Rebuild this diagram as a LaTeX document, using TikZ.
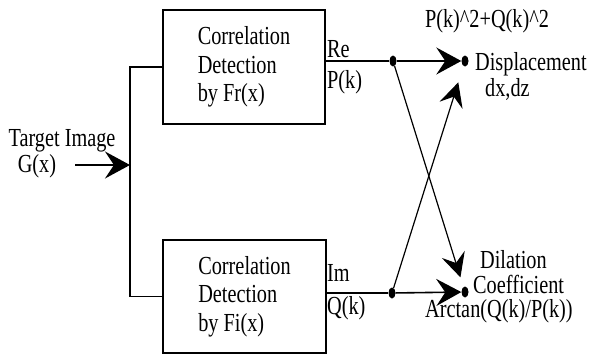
\documentclass[tikz,border=0pt]{standalone}
\usepackage{fontspec}
\setmainfont[FakeStretch=0.78]{Liberation Serif}
\usetikzlibrary{arrows.meta,shapes.geometric}
\begin{document}
\begin{tikzpicture}[x=1pt,y=-1pt,
  every node/.style={font=\fontsize{26}{28.5}\selectfont, inner sep=0pt},
  boxst/.style={draw, line width=1.6pt, minimum width=162pt, minimum height=114pt, align=left},
  dotst/.style={ellipse, fill=black, minimum width=7pt, minimum height=11pt},
  wire/.style={line width=1.6pt},
  bigarrow/.style={line width=1.6pt, -{Stealth[length=25pt, width=27pt, inset=9pt]}},
  diagarrow/.style={line width=1.2pt, -{Stealth[length=24pt, width=24pt, inset=9pt]}},
  lbl/.style={anchor=base west},
  clbl/.style={anchor=base}]
\useasboundingbox (0,0) rectangle (596,356);
% boxes
\node[boxst] (topbox) at (244,67) {Correlation\\ Detection\\ by Fr(x)};
\node[boxst, minimum width=163pt, minimum height=113pt] (botbox) at (244.5,296.5) {Correlation\\ Detection\\ by Fi(x)};
% input
\coordinate (in) at (75,165);
\coordinate (jn) at (130,165);
\node[clbl] (tgt) at (62,146) {Target Image};
\node[clbl] (gx) at (37,172) {G(x)};
\draw[wire] (topbox.west) -- (topbox.west -| jn) -- (botbox.west -| jn) -- (botbox.west);
\draw[bigarrow] (in) -- (jn);
% dots
\node[dotst] (dRe) at (393,61) {};
\node[dotst] (dP) at (465,61) {};
\node[dotst] (dIm) at (392,293) {};
\node[dotst] (dD) at (465,292) {};
\draw[wire] (dRe -| topbox.east) -- (dRe);
\draw[wire] (dIm -| botbox.east) -- (dIm);
\draw[bigarrow] (dRe) -- (dP);
\draw[bigarrow] (dIm) -- (dD);
\draw[diagarrow, shorten >=17pt] (dIm) -- (dP);
\draw[diagarrow, shorten >=10pt] (dRe) -- (dD);
% labels
\node[lbl] (re) at (327,57) {Re};
\node[lbl] (pk) at (327,88) {P(k)};
\node[lbl] (im) at (327,281) {Im};
\node[lbl] (qk) at (327,314) {Q(k)};
\node[clbl] (pq) at (487,27) {P(k)\textasciicircum 2+Q(k)\textasciicircum 2};
\node[lbl] (disp) at (475,70) {Displacement};
\node[lbl] (dxdz) at (485,96) {dx,dz};
\node[lbl] (dil) at (480,268) {Dilation};
\node[lbl] (coef) at (473,293) {Coefficient};
\node[lbl] (arct) at (425,317) {Arctan(Q(k)/P(k))};
\end{tikzpicture}
\end{document}
